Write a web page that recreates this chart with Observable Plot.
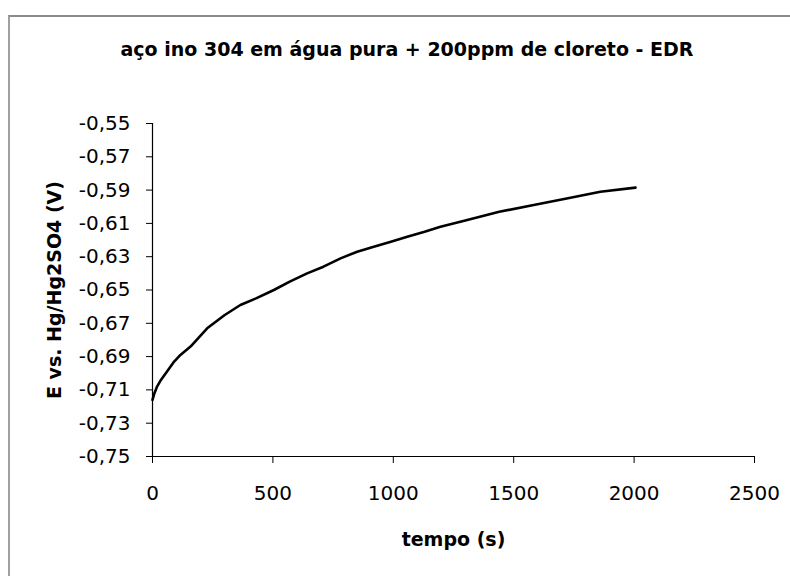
<!DOCTYPE html>
<html>
<head>
<meta charset="utf-8">
<script src="https://cdn.jsdelivr.net/npm/d3@7"></script>
<script src="https://cdn.jsdelivr.net/npm/@observablehq/plot@0.6"></script>
<style>
  html, body { margin: 0; padding: 0; background: #fff; }
  #wrap { position: relative; width: 790px; height: 576px; overflow: hidden; font-family: "DejaVu Sans", sans-serif; }
  #frame { position: absolute; left: 8px; top: 15px; width: 800px; height: 600px; border-top: 2px solid #8a8a8a; border-left: 2px solid #a0a0a0; box-sizing: border-box; }
  #title { position: absolute; left: 0; top: 37px; width: 814px; text-align: center; font-weight: bold; font-size: 19px; line-height: 24px; color: #000; white-space: nowrap; }
  #chart { position: absolute; left: 0; top: 0; }
</style>
</head>
<body>
<div id="wrap">
  <div id="frame"></div>
  <div id="title"></div>
  <div id="chart"></div>
</div>
<script>
const titleText = "aço ino 304 em água pura + 200ppm de cloreto - EDR";
const xLabel = "tempo (s)";
const yLabel = "E vs. Hg/Hg2SO4 (V)";
const tempo = [0, 8, 19, 35, 50, 70, 90, 116, 158, 227, 300, 365, 430, 504, 570, 642, 710, 781, 850, 919, 990, 1058, 1130, 1196, 1307, 1440, 1583, 1720, 1860, 2006];
const potencial = [-0.716, -0.712, -0.708, -0.704, -0.701, -0.697, -0.693, -0.689, -0.684, -0.673, -0.665, -0.659, -0.655, -0.650, -0.645, -0.640, -0.636, -0.631, -0.627, -0.624, -0.621, -0.618, -0.615, -0.612, -0.608, -0.603, -0.599, -0.595, -0.591, -0.5885];
const xTicks = [0, 500, 1000, 1500, 2000, 2500];
const yTicks = [-0.55, -0.57, -0.59, -0.61, -0.63, -0.65, -0.67, -0.69, -0.71, -0.73, -0.75];

document.getElementById("title").textContent = titleText;
const data = tempo.map((t, i) => ({t, v: potencial[i]}));
const fmtY = d => d.toFixed(2).replace(".", ",");
const fmtX = d => String(d);

const chart = Plot.plot({
  width: 790,
  height: 576,
  marginTop: 123,
  marginBottom: 120,
  marginLeft: 152,
  marginRight: 36,
  style: {fontFamily: "'DejaVu Sans', sans-serif", fontSize: "20px", color: "#000", background: "transparent"},
  x: {domain: [0, 2500]},
  y: {domain: [-0.75, -0.55]},
  marks: [
    Plot.axisX({ticks: xTicks, tickSize: 7, tickPadding: 22, tickFormat: fmtX, label: null, fontSize: 20, stroke: "#000"}),
    Plot.axisY({ticks: yTicks, tickSize: 6, tickPadding: 16, tickFormat: fmtY, label: null, fontSize: 20, stroke: "#000"}),
    Plot.ruleX([0], {stroke: "#000", strokeWidth: 1.2}),
    Plot.ruleY([-0.75], {stroke: "#000", strokeWidth: 1.2}),
    Plot.line(data, {x: "t", y: "v", stroke: "#000", strokeWidth: 2.6}),
    Plot.text([xLabel], {frameAnchor: "bottom", dy: 83, textAnchor: "middle", lineAnchor: "middle", fontWeight: "bold", fontSize: 19, fill: "#000"}),
    Plot.text([yLabel], {frameAnchor: "left", dx: -98, rotate: -90, textAnchor: "middle", lineAnchor: "middle", fontWeight: "bold", fontSize: 19, fill: "#000"})
  ]
});
document.getElementById("chart").appendChild(chart);
</script>
</body>
</html>
